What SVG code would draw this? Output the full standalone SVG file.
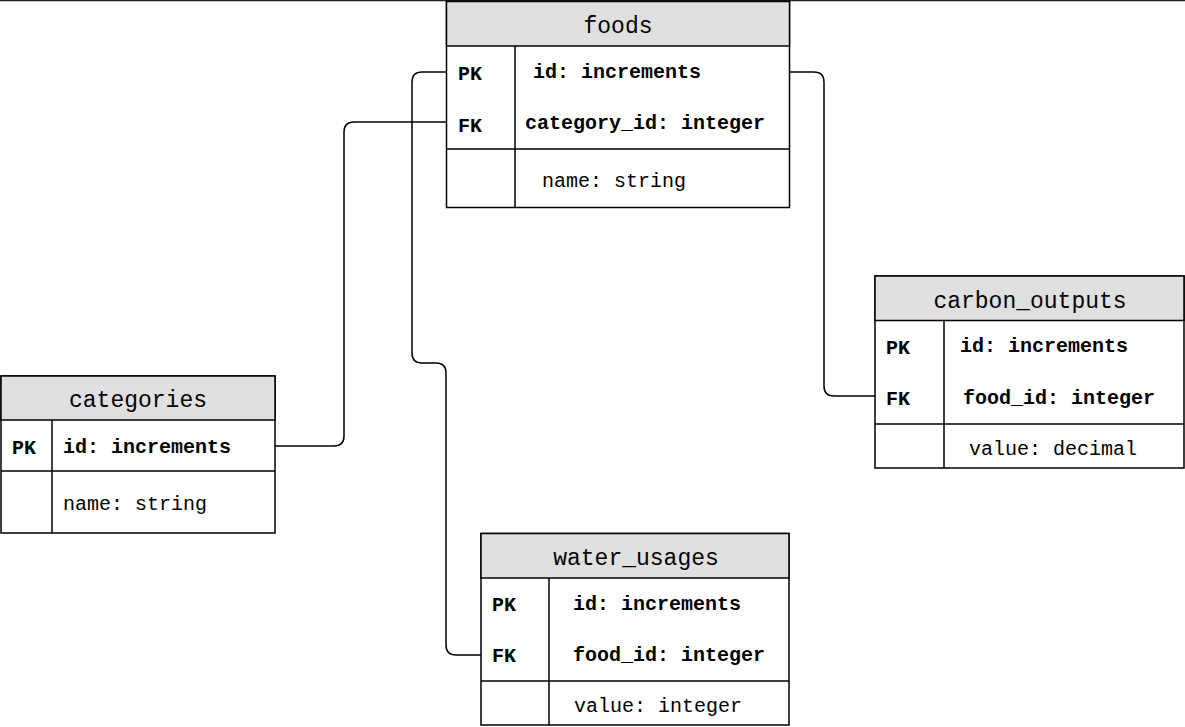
<svg xmlns="http://www.w3.org/2000/svg" width="1185" height="727" viewBox="0 0 1185 727">
<style>
.box{fill:#ffffff;stroke:#000;stroke-width:1.5}
.hdr{fill:#e0e0e0;stroke:#000;stroke-width:1.5}
.ln{stroke:#000;stroke-width:1.5;fill:none}
.t{font-family:"Liberation Mono","DejaVu Sans Mono",monospace;font-size:23px;fill:#000;text-anchor:middle}
.b{font-family:"Liberation Mono","DejaVu Sans Mono",monospace;font-size:20px;font-weight:bold;fill:#000}
.n{font-family:"Liberation Mono","DejaVu Sans Mono",monospace;font-size:20px;fill:#000}
.c{stroke:#000;stroke-width:1.5;fill:none}
</style>
<line x1="0" y1="0.5" x2="1185" y2="0.5" stroke="#222" stroke-width="1.5"/>
<g id="connectors">
<path class="c" d="M446,72 H422 Q412,72 412,82 V353 Q412,363 422,363 H436 Q446,363 446,373 V645 Q446,655 456,655 H481"/>
<path class="c" d="M446,122 H354 Q344,122 344,132 V436 Q344,446 334,446 H275"/>
<path class="c" d="M789,72 H814 Q824,72 824,82 V386 Q824,396 834,396 H875"/>
</g>
<g id="foods">
<rect class="box" x="446.5" y="1.5" width="343" height="206"/>
<rect class="hdr" x="446.5" y="1.5" width="343" height="44.5"/>
<line class="ln" x1="515" y1="46" x2="515" y2="207.5"/>
<line class="ln" x1="446.5" y1="149" x2="789.5" y2="149"/>
<text class="t" x="618" y="33">foods</text>
<text class="b" x="458" y="80">PK</text>
<text class="b" x="533" y="78">id: increments</text>
<text class="b" x="458" y="132">FK</text>
<text class="b" x="525" y="129">category_id: integer</text>
<text class="n" x="542" y="187">name: string</text>
</g>
<g id="categories">
<rect class="box" x="1" y="376" width="274" height="157"/>
<rect class="hdr" x="1" y="376" width="274" height="44"/>
<line class="ln" x1="52" y1="420" x2="52" y2="533"/>
<line class="ln" x1="1" y1="471" x2="275" y2="471"/>
<text class="t" x="138" y="407">categories</text>
<text class="b" x="12" y="454">PK</text>
<text class="b" x="63" y="453">id: increments</text>
<text class="n" x="63" y="510">name: string</text>
</g>
<g id="carbon_outputs">
<rect class="box" x="875" y="276" width="309" height="192"/>
<rect class="hdr" x="875" y="276" width="309" height="44.5"/>
<line class="ln" x1="944" y1="320.5" x2="944" y2="468"/>
<line class="ln" x1="875" y1="424" x2="1184" y2="424"/>
<text class="t" x="1030" y="308">carbon_outputs</text>
<text class="b" x="886" y="354">PK</text>
<text class="b" x="960" y="352">id: increments</text>
<text class="b" x="886" y="405">FK</text>
<text class="b" x="963" y="404">food_id: integer</text>
<text class="n" x="969" y="455">value: decimal</text>
</g>
<g id="water_usages">
<rect class="box" x="481" y="533.5" width="308" height="191.5"/>
<rect class="hdr" x="481" y="533.5" width="308" height="44.5"/>
<line class="ln" x1="549" y1="578" x2="549" y2="725"/>
<line class="ln" x1="481" y1="681" x2="789" y2="681"/>
<text class="t" x="636" y="565">water_usages</text>
<text class="b" x="492" y="611">PK</text>
<text class="b" x="573" y="610">id: increments</text>
<text class="b" x="492" y="662">FK</text>
<text class="b" x="573" y="661">food_id: integer</text>
<text class="n" x="574" y="712">value: integer</text>
</g>
</svg>
